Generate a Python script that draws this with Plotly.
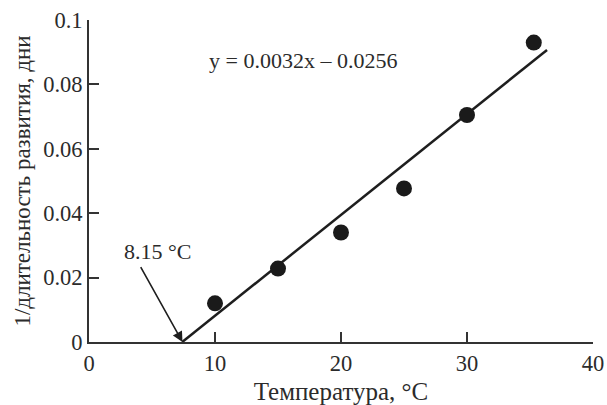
import plotly.graph_objects as go

# Data
temp = [10, 15, 20, 25, 30, 35.3]
rate = [0.012, 0.0228, 0.034, 0.0477, 0.0705, 0.093]
fit_x = [7.4, 36.35]
fit_y = [0.0, 0.0907]
x_ticks = [0, 10, 20, 30, 40]
y_ticks = [0, 0.02, 0.04, 0.06, 0.08, 0.1]
y_tick_labels = ["0", "0.02", "0.04", "0.06", "0.08", "0.1"]

FONT = "Liberation Serif, Times New Roman, serif"
INK = "#2b2b2b"

fig = go.Figure()
fig.add_trace(go.Scatter(x=fit_x, y=fit_y, mode="lines",
                         line=dict(color="#1e1e1e", width=2.5),
                         showlegend=False, hoverinfo="skip"))
fig.add_trace(go.Scatter(x=temp, y=rate, mode="markers",
                         marker=dict(color="#1a1a1a", size=16),
                         showlegend=False))

fig.add_annotation(x=17.0, y=0.0875, xref="x", yref="y",
                   text="y = 0.0032x – 0.0256", showarrow=False,
                   font=dict(family=FONT, size=22, color=INK))
fig.add_annotation(x=5.44, y=0.028, xref="x", yref="y",
                   text="8.15 °C", showarrow=False,
                   font=dict(family=FONT, size=22, color=INK))
fig.add_annotation(x=7.42, y=0.0, ax=4.04, ay=0.0237,
                   xref="x", yref="y", axref="x", ayref="y",
                   text="", showarrow=True, arrowhead=2, arrowsize=1.3,
                   arrowwidth=1.6, arrowcolor="#1e1e1e", standoff=0)

axis_common = dict(showgrid=False, zeroline=False, showline=True,
                   linecolor="#333333", linewidth=2, automargin=False,
                   ticks="inside", ticklen=10, tickwidth=2, tickcolor="#333333",
                   tickfont=dict(family=FONT, size=22.5, color=INK))

fig.update_xaxes(range=[0, 40], tickvals=x_ticks,
                 title=dict(text="Температура, °C", standoff=8,
                            font=dict(family=FONT, size=25, color=INK)),
                 **axis_common)
fig.update_yaxes(range=[0, 0.1], tickvals=y_ticks, ticktext=y_tick_labels,
                 title=dict(text="1/длительность развития, дни", standoff=6,
                            font=dict(family=FONT, size=23, color=INK)),
                 **axis_common)

fig.update_layout(width=607, height=405,
                  margin=dict(l=89, r=14, t=20, b=63),
                  plot_bgcolor="white", paper_bgcolor="white")

fig.write_html("out.html")
